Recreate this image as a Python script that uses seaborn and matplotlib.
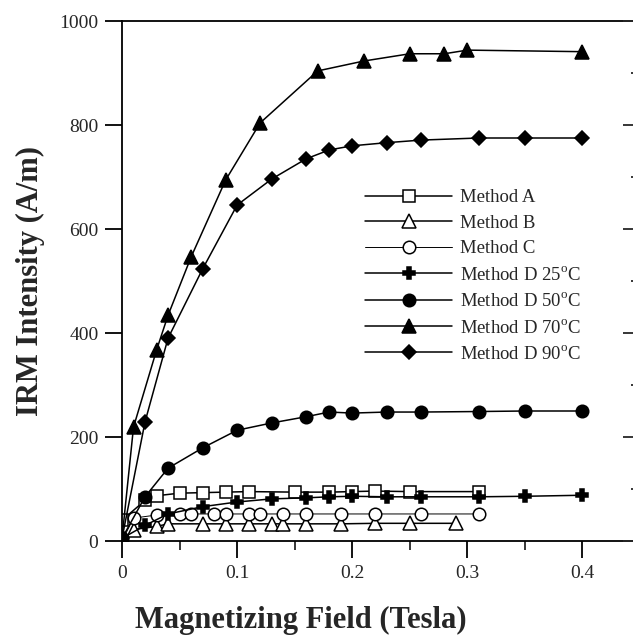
import matplotlib
matplotlib.use("Agg")
import matplotlib.pyplot as plt
import seaborn as sns
from matplotlib.ticker import MultipleLocator

# values
x_a = [0, 0.02, 0.03, 0.05, 0.07, 0.09, 0.11, 0.15, 0.18, 0.20, 0.22, 0.25, 0.31]
y_a = [40, 78, 87, 92, 93, 94, 95, 94, 94, 95, 96, 95, 95]

x_b = [0, 0.01, 0.03, 0.04, 0.07, 0.09, 0.11, 0.13, 0.14, 0.16, 0.19, 0.22, 0.25, 0.29]
y_b = [0, 22, 28, 33, 33, 33, 33, 33, 33, 33, 33, 34, 34, 34]

x_c = [0, 0.01, 0.03, 0.05, 0.06, 0.08, 0.09, 0.11, 0.12, 0.14, 0.16, 0.19, 0.22, 0.26, 0.31]
y_c = [0, 44, 50, 52, 52, 52, 52, 52, 52, 52, 52, 52, 52, 52, 52]

x_d25 = [0, 0.02, 0.04, 0.07, 0.10, 0.13, 0.16, 0.18, 0.20, 0.23, 0.26, 0.31, 0.35, 0.40]
y_d25 = [5, 30, 52, 66, 75, 81, 83, 85, 86, 85, 85, 85, 86, 88]

x_d50 = [0, 0.02, 0.04, 0.07, 0.10, 0.13, 0.16, 0.18, 0.20, 0.23, 0.26, 0.31, 0.35, 0.40]
y_d50 = [5, 85, 140, 179, 213, 227, 239, 248, 246, 248, 248, 249, 250, 250]

x_d70 = [0, 0.01, 0.03, 0.04, 0.06, 0.09, 0.12, 0.17, 0.21, 0.25, 0.28, 0.30, 0.40]
y_d70 = [5, 219, 367, 434, 546, 694, 804, 904, 923, 937, 937, 944, 941]

x_d90 = [0, 0.02, 0.04, 0.07, 0.10, 0.13, 0.16, 0.18, 0.20, 0.23, 0.26, 0.31, 0.35, 0.40]
y_d90 = [5, 229, 390, 523, 646, 696, 735, 752, 760, 766, 771, 775, 775, 775]

labels = ["Method A", "Method B", "Method C",
          "Method D 25$^{\\rm o}$C", "Method D 50$^{\\rm o}$C",
          "Method D 70$^{\\rm o}$C", "Method D 90$^{\\rm o}$C"]

sns.set_style("ticks")
plt.rcParams["font.family"] = ["Liberation Serif", "DejaVu Serif"]
plt.rcParams["mathtext.fontset"] = "custom"
plt.rcParams["mathtext.rm"] = "Liberation Serif"

fig = plt.figure(figsize=(6.33, 6.38), dpi=100)
ax = fig.add_axes([122 / 633, 1 - 541 / 638, 518 / 633, 520 / 638])

series = [
    (x_a, y_a, dict(marker="s", markersize=9, markerfacecolor="white", linewidth=1.1)),
    (x_b, y_b, dict(marker="^", markersize=10, markerfacecolor="white", linewidth=1.1)),
    (x_c, y_c, dict(marker="o", markersize=9, markerfacecolor="white", linewidth=0.7)),
    (x_d25, y_d25, dict(marker="P", markersize=9, markerfacecolor="black", linewidth=1.1)),
    (x_d50, y_d50, dict(marker="o", markersize=9, markerfacecolor="black", linewidth=1.1)),
    (x_d70, y_d70, dict(marker="^", markersize=10, markerfacecolor="black", linewidth=1.1)),
    (x_d90, y_d90, dict(marker="D", markersize=7, markerfacecolor="black", linewidth=1.1)),
]
for (xs, ys, kw), lab in zip(series, labels):
    sns.lineplot(x=xs, y=ys, ax=ax, color="black", markeredgecolor="black",
                 markeredgewidth=1.1, label=lab, **kw)

ax.set_xlim(0, 0.45)
ax.set_ylim(0, 1000)
ax.xaxis.set_major_locator(MultipleLocator(0.1))
ax.xaxis.set_minor_locator(MultipleLocator(0.05))
ax.yaxis.set_major_locator(MultipleLocator(200))
ax.set_xticks([0, 0.1, 0.2, 0.3, 0.4])
ax.set_xticklabels(["0", "0.1", "0.2", "0.3", "0.4"])
ax.tick_params(axis="both", which="major", direction="out", length=12, width=1.3,
               labelsize=14, pad=5, color="black")
ax.tick_params(axis="x", which="minor", direction="out", length=6.5, width=1.3)
for sp in ax.spines.values():
    sp.set_linewidth(1.3)
    sp.set_color("black")

# inward ticks on the right side
ax2 = ax.twinx()
ax2.set_ylim(0, 1000)
ax2.yaxis.set_major_locator(MultipleLocator(200))
ax2.yaxis.set_minor_locator(MultipleLocator(100))
ax2.tick_params(axis="y", which="major", direction="in", length=12, width=1.3, labelright=False)
ax2.tick_params(axis="y", which="minor", direction="in", length=6.5, width=1.3)
for sp in ax2.spines.values():
    sp.set_visible(False)

ax.set_xlabel("Magnetizing Field (Tesla)", fontsize=22, fontweight="bold")
ax.set_ylabel("IRM Intensity (A/m)", fontsize=22, fontweight="bold")
ax.xaxis.set_label_coords((301 - 122) / 518, -0.152)
ax.xaxis.label.set_va("center")
ax.yaxis.set_label_coords(-(122 - 30) / 518, 0.5)
ax.yaxis.label.set_va("center")

ax.legend(loc="upper left", bbox_to_anchor=(0.47, 0.677), frameon=False, fontsize=13.5,
          handlelength=4.6, handletextpad=0.45, labelspacing=0.45, borderaxespad=0,
          borderpad=0)

fig.savefig("out.png", dpi=100)
